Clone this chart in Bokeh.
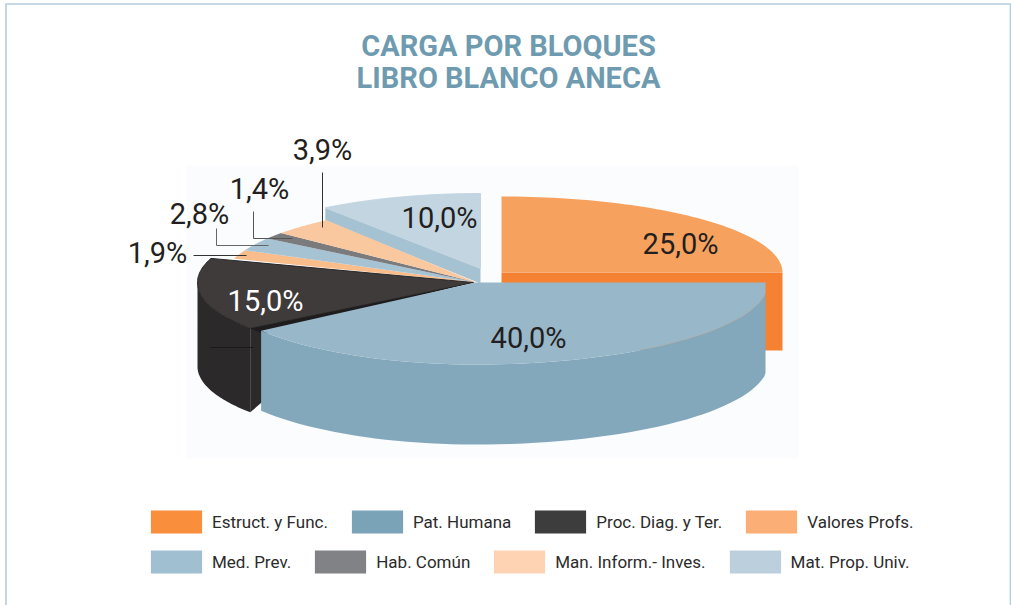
import numpy as np
from bokeh.plotting import figure
from bokeh.models import Range1d, Legend, LegendItem
from bokeh.core.properties import value
from bokeh.embed import file_html
from bokeh.resources import INLINE

# ---- data ----
categories = ["Estruct. y Func.", "Pat. Humana", "Proc. Diag. y Ter.", "Valores Profs.",
              "Med. Prev.", "Hab. Común", "Man. Inform.- Inves.", "Mat. Prop. Univ."]
values = [25.0, 40.0, 15.0, 1.9, 2.8, 1.4, 3.9, 10.0]
labels = ["25,0%", "40,0%", "15,0%", "1,9%", "2,8%", "1,4%", "3,9%", "10,0%"]
legend_colors = ["#F98E3C", "#7BA3B8", "#3D3D3D", "#FBAE76", "#A0BFD0", "#808285", "#FDD3B4", "#BBD0DC"]
top_colors = ["#F6A25E", "#98B7C9", "#3F3B3B", "#F9BD8C", "#A6C3D3", "#7B7B7E", "#FAC89E", "#C2D5E1"]
title_lines = ["CARGA POR BLOQUES", "LIBRO BLANCO ANECA"]

# ---- layout ----
W, H = 1011, 605
FONT = "Roboto"
centers = [(501, 272), (475, 282), (473, 282), (476, 282), (476, 282), (476, 282), (476, 282), (480, 268)]
radii = [(281, 281, 76), (293, 265, 82), (276, 276, 78), (255, 255, 77), (255, 255, 77), (255, 255, 77), (255, 255, 77), (264, 264, 75)]
label_pos = [(680, 243), (528, 337), (265, 300), (157, 252), (199, 213), (259, 188), (322, 149), (439, 217)]
label_col = ["#231F20", "#231F20", "#FFFFFF", "#231F20", "#231F20", "#231F20", "#231F20", "#231F20"]

cum = np.cumsum([0] + values)
angles = [(90 - 3.6 * cum[i], 90 - 3.6 * cum[i + 1]) for i in range(len(values))]


def arc(i, n=60):
    (cx, cy), (rr, rl, ry) = centers[i], radii[i]
    t = np.radians(np.linspace(angles[i][0], angles[i][1], n))
    c = np.cos(t)
    x = cx + np.where(c > 0, rr, rl) * c
    y = cy - ry * np.sin(t)
    return x, y


p = figure(width=W, height=H, x_range=Range1d(0, W), y_range=Range1d(H, 0), toolbar_location=None,
           output_backend="svg", min_border=0, background_fill_color="white",
           border_fill_color="white", outline_line_color=None, x_axis_type=None, y_axis_type=None)
p.grid.visible = False

# faint picture background and frame
p.quad(left=[186], right=[798], top=[165], bottom=[458], fill_color="#FBFCFE", line_color=None)
p.line([5.5, 5.5, 1010, 1010], [605, 3.5, 3.5, 605], line_color="#B4CDD9", line_width=1.6)

# orange slice (walls then top)
cx, cy = centers[0]
rr = radii[0][0]
p.patch([cx, cx + rr, cx + rr, cx], [cy, cy, cy + 78, cy + 78], fill_color="#F58233", line_color=None)
x, y = arc(0)
p.patch(np.r_[cx, x], np.r_[cy, y], fill_color=top_colors[0], line_color=None)

# last slice, its cut face, and its top
x, y = arc(7)
cx, cy = centers[7]
p.patch([x[0], cx, cx, x[0]], [y[0], cy, cy + 15, y[0] + 13], fill_color="#A5C2D3", line_color=None)
p.patch(np.r_[cx, x], np.r_[cy, y], fill_color=top_colors[7], line_color="#C2D5E1", line_width=1)

# thin slices
for i in (3, 4, 5, 6):
    x, y = arc(i)
    cx, cy = centers[i]
    p.patch(np.r_[cx, x], np.r_[cy, y], fill_color=top_colors[i], line_color=None)

# dark slice
x, y = arc(2)
cx, cy = centers[2]
t = np.linspace(angles[2][0], angles[2][1], 60)
w = t >= -180
p.patch(np.r_[x[w], x[w][::-1]], np.r_[y[w], (y[w] + 84)[::-1]], fill_color="#2B2929", line_color=None)
p.patch([x[0], x[0] + 14, x[0] + 14, x[0]], [y[0], y[0], y[0] + 72, y[0] + 84], fill_color="#2B2929", line_color=None)
p.line([210, 253], [347, 347], line_color="#1A1A1A", line_width=1)
p.patch(np.r_[cx, x], np.r_[cy, y], fill_color=top_colors[2], line_color="#2A2727", line_width=1)
p.patch([cx, x[0], x[0] + 14], [cy, y[0], y[0] + 6], fill_color="#1E1C1C", line_color=None)

# blue slice
x, y = arc(1)
x = np.minimum(x, 765)
cx, cy = centers[1]
p.patch(np.r_[x, x[::-1]], np.r_[y, (y + 80)[::-1]], fill_color="#83A8BB", line_color=None)
p.patch(np.r_[cx, x], np.r_[cy, y], fill_color=top_colors[1], line_color=None)

# leader lines
p.line([322, 322], [172, 227], line_color="#333333", line_width=1)
p.line([253, 253, 292], [211, 238, 238], line_color="#555555", line_width=1)
p.line([216, 216, 268], [228, 245, 245], line_color="#666666", line_width=1)
p.line([193, 246], [255, 255], line_color="#333333", line_width=1)

# value labels
p.text([q[0] for q in label_pos], [q[1] for q in label_pos], text=labels, text_color=label_col,
       text_align="center", text_baseline="middle", text_font=value(FONT), text_font_size="29px")

# title
p.text([508, 508], [45, 77], text=title_lines, text_color="#6F9BB0", text_align="center",
       text_baseline="middle", text_font=value("Roboto"), text_font_style="bold", text_font_size="29px")

# legend (swatches come from off-canvas proxy glyphs so their colours stay the legend's own)
dummies = [p.quad(left=[-50], right=[-40], top=[-50], bottom=[-40], fill_color=c, line_color=None) for c in legend_colors]


def make_legend(idx, top):
    return Legend(items=[LegendItem(label=categories[i], renderers=[dummies[i]]) for i in idx],
                  orientation="horizontal", location=(144, H - top - 29), glyph_width=64, glyph_height=29,
                  label_standoff=4, spacing=17, padding=0, margin=0, border_line_color=None,
                  background_fill_alpha=0, label_text_font=FONT, label_text_font_size="17px",
                  label_text_color="#2B2B2B", label_height=29, label_text_baseline="middle")


p.add_layout(make_legend([0, 1, 2, 3], 507), "center")
p.add_layout(make_legend([4, 5, 6, 7], 547), "center")

open("out.html", "w").write(file_html(p, INLINE))
